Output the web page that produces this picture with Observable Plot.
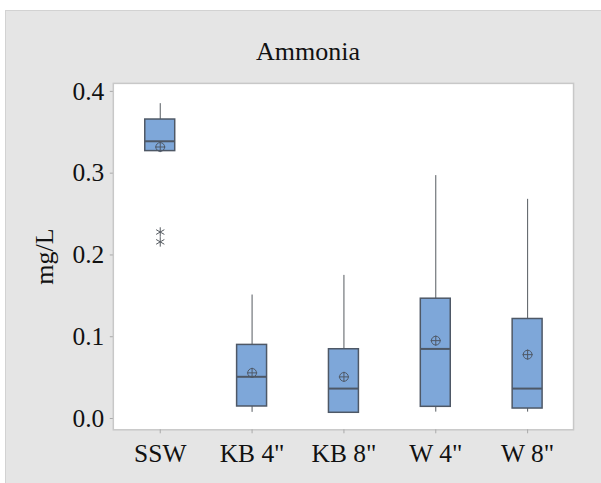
<!DOCTYPE html>
<html>
<head>
<meta charset="utf-8">
<script src="https://cdn.jsdelivr.net/npm/d3@7"></script>
<script src="https://cdn.jsdelivr.net/npm/@observablehq/plot@0.6"></script>
<style>
  html, body { margin: 0; padding: 0; background: #ffffff; }
  #panel {
    position: absolute; left: 5px; top: 10px; width: 596px; height: 473px;
    background: #e5e5e5; box-sizing: border-box;
    border-left: 1px solid #d2d2d2; border-top: 1px solid #d2d2d2;
    font-family: "Liberation Serif", "DejaVu Serif", serif;
  }
  #title {
    position: absolute; left: 0; width: 604px; top: 28px;
    text-align: center; font-size: 26px; line-height: 26px; color: #111;
  }
  #chart { position: absolute; left: -1px; top: -1px; }
</style>
</head>
<body>
<div id="panel">
  <div id="chart"></div>
  <div id="title">Ammonia</div>
</div>
<script>
// Ammonia concentration (mg/L) summary per sampling group
const groups = ["SSW", "KB 4\"", "KB 8\"", "W 4\"", "W 8\""];
const whiskerLow = [0.327, 0.0075, 0.007, 0.0078, 0.0078];
const q1 = [0.327, 0.0147, 0.007, 0.0143, 0.0122];
const median = [0.339, 0.051, 0.0366, 0.0851, 0.0366];
const q3 = [0.3656, 0.090, 0.0847, 0.1465, 0.1217];
const whiskerHigh = [0.385, 0.151, 0.175, 0.297, 0.268];
const means = [0.332, 0.0558, 0.0509, 0.0952, 0.0781];
const outlierGroup = ["SSW", "SSW"];
const outlierValue = [0.228, 0.216];
const yTicks = [0, 0.1, 0.2, 0.3, 0.4];

const stats = groups.map((g, i) => ({
  group: g, lo: whiskerLow[i], q1: q1[i], med: median[i],
  q3: q3[i], hi: whiskerHigh[i], mean: means[i]
}));
const outliers = outlierGroup.map((g, i) => ({group: g, value: outlierValue[i]}));

const boxFill = "#7ea7d9";
const boxStroke = "#4e5866";
const lineColor = "#555a60";
const inset = 31;

const chart = Plot.plot({
  width: 597,
  height: 474,
  marginLeft: 108,
  marginRight: 28,
  marginTop: 73,
  marginBottom: 54,
  style: {
    background: "transparent",
    fontFamily: "'Liberation Serif', 'DejaVu Serif', serif",
    color: "#111"
  },
  x: {type: "band", domain: groups, padding: 0, label: null, axis: null},
  y: {domain: [-0.0138, 0.4098], label: null, axis: null},
  marks: [
    Plot.frame({fill: "white", stroke: "#c8c8c8", strokeWidth: 1.5}),
    Plot.axisY(yTicks, {
      tickSize: 3, tickPadding: 6, stroke: "#aaaaaa", fill: "#111",
      fontSize: 25.5, tickFormat: d3.format(".1f"), label: null
    }),
    Plot.axisX(groups, {
      tickSize: 4, tickPadding: 10, stroke: "#aaaaaa", fill: "#111",
      fontSize: 25.5, label: null
    }),
    // whiskers
    Plot.ruleX(stats, {x: "group", y1: "q3", y2: "hi", stroke: lineColor, strokeWidth: 1}),
    Plot.ruleX(stats, {x: "group", y1: "lo", y2: "q1", stroke: lineColor, strokeWidth: 1}),
    // interquartile boxes
    Plot.barY(stats, {
      x: "group", y1: "q1", y2: "q3", fill: boxFill, stroke: boxStroke,
      strokeWidth: 1.5, insetLeft: inset, insetRight: inset
    }),
    // medians
    Plot.tickY(stats, {
      x: "group", y: "med", stroke: boxStroke, strokeWidth: 2,
      insetLeft: inset, insetRight: inset
    }),
    // means: circle with cross
    Plot.dot(stats, {x: "group", y: "mean", r: 4.4, stroke: boxStroke, strokeWidth: 1, fill: "none"}),
    Plot.dot(stats, {x: "group", y: "mean", r: 3.4, symbol: "plus", stroke: boxStroke, strokeWidth: 1}),
    // outliers
    Plot.dot(outliers, {x: "group", y: "value", r: 4.5, symbol: "asterisk", stroke: lineColor, strokeWidth: 1}),
    // y-axis title
    Plot.text(["mg/L"], {
      frameAnchor: "left", dx: -69, rotate: -90, fontSize: 26,
      fill: "#111", textAnchor: "middle", lineAnchor: "middle"
    })
  ]
});
document.getElementById("chart").append(chart);
</script>
</body>
</html>
